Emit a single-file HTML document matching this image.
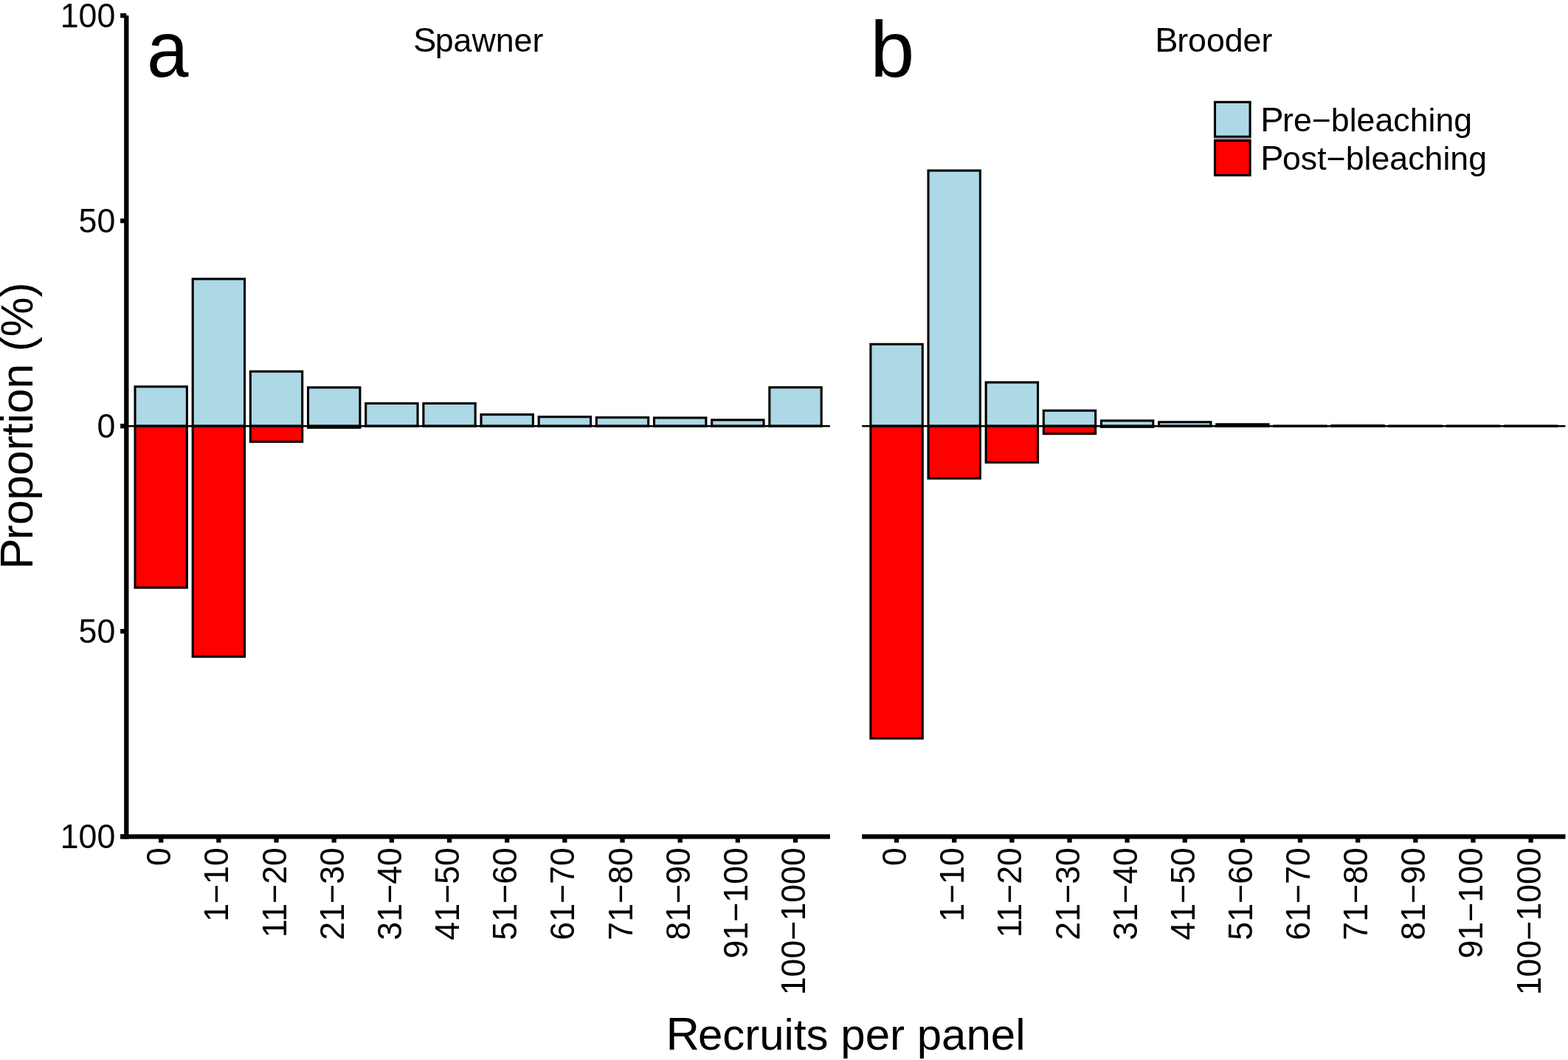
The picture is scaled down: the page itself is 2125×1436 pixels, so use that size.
<!DOCTYPE html>
<html><head><meta charset="utf-8"><title>Recruits per panel</title>
<style>html,body{margin:0;padding:0;background:#fff;}body{width:2125px;height:1436px;position:relative;overflow:hidden;}</style>
</head><body>
<svg width="2125" height="1436" viewBox="0 0 2125 1436" style="position:absolute;left:0;top:0" font-family="'Liberation Sans', Arial, sans-serif" fill="#000">
<rect width="2125" height="1436" fill="#fff"/>
<rect x="183.02" y="523.80" width="70.35" height="53.40" fill="#ADD8E6" stroke="#000" stroke-width="3.1"/>
<rect x="183.02" y="577.20" width="70.35" height="218.90" fill="#FF0000" stroke="#000" stroke-width="3.1"/>
<rect x="261.19" y="377.90" width="70.35" height="199.30" fill="#ADD8E6" stroke="#000" stroke-width="3.1"/>
<rect x="261.19" y="577.20" width="70.35" height="312.40" fill="#FF0000" stroke="#000" stroke-width="3.1"/>
<rect x="339.35" y="503.20" width="70.35" height="74.00" fill="#ADD8E6" stroke="#000" stroke-width="3.1"/>
<rect x="339.35" y="577.20" width="70.35" height="21.20" fill="#FF0000" stroke="#000" stroke-width="3.1"/>
<rect x="417.52" y="524.90" width="70.35" height="52.30" fill="#ADD8E6" stroke="#000" stroke-width="3.1"/>
<rect x="417.52" y="577.20" width="70.35" height="2.10" fill="#FF0000" stroke="#000" stroke-width="3.1"/>
<rect x="495.68" y="546.50" width="70.35" height="30.70" fill="#ADD8E6" stroke="#000" stroke-width="3.1"/>
<rect x="495.68" y="577.20" width="70.35" height="0.01" fill="#FF0000" stroke="#000" stroke-width="3.1"/>
<rect x="573.84" y="546.50" width="70.35" height="30.70" fill="#ADD8E6" stroke="#000" stroke-width="3.1"/>
<rect x="573.84" y="577.20" width="70.35" height="0.01" fill="#FF0000" stroke="#000" stroke-width="3.1"/>
<rect x="652.01" y="561.60" width="70.35" height="15.60" fill="#ADD8E6" stroke="#000" stroke-width="3.1"/>
<rect x="652.01" y="577.20" width="70.35" height="0.01" fill="#FF0000" stroke="#000" stroke-width="3.1"/>
<rect x="730.17" y="564.70" width="70.35" height="12.50" fill="#ADD8E6" stroke="#000" stroke-width="3.1"/>
<rect x="730.17" y="577.20" width="70.35" height="0.01" fill="#FF0000" stroke="#000" stroke-width="3.1"/>
<rect x="808.34" y="565.60" width="70.35" height="11.60" fill="#ADD8E6" stroke="#000" stroke-width="3.1"/>
<rect x="808.34" y="577.20" width="70.35" height="0.01" fill="#FF0000" stroke="#000" stroke-width="3.1"/>
<rect x="886.50" y="566.00" width="70.35" height="11.20" fill="#ADD8E6" stroke="#000" stroke-width="3.1"/>
<rect x="886.50" y="577.20" width="70.35" height="0.01" fill="#FF0000" stroke="#000" stroke-width="3.1"/>
<rect x="964.66" y="568.90" width="70.35" height="8.30" fill="#ADD8E6" stroke="#000" stroke-width="3.1"/>
<rect x="964.66" y="577.20" width="70.35" height="0.01" fill="#FF0000" stroke="#000" stroke-width="3.1"/>
<rect x="1042.83" y="524.80" width="70.35" height="52.40" fill="#ADD8E6" stroke="#000" stroke-width="3.1"/>
<rect x="1042.83" y="577.20" width="70.35" height="0.01" fill="#FF0000" stroke="#000" stroke-width="3.1"/>
<rect x="1179.91" y="466.30" width="70.35" height="110.90" fill="#ADD8E6" stroke="#000" stroke-width="3.1"/>
<rect x="1179.91" y="577.20" width="70.35" height="423.10" fill="#FF0000" stroke="#000" stroke-width="3.1"/>
<rect x="1258.05" y="231.05" width="70.35" height="346.15" fill="#ADD8E6" stroke="#000" stroke-width="3.1"/>
<rect x="1258.05" y="577.20" width="70.35" height="70.90" fill="#FF0000" stroke="#000" stroke-width="3.1"/>
<rect x="1336.19" y="518.00" width="70.35" height="59.20" fill="#ADD8E6" stroke="#000" stroke-width="3.1"/>
<rect x="1336.19" y="577.20" width="70.35" height="49.20" fill="#FF0000" stroke="#000" stroke-width="3.1"/>
<rect x="1414.33" y="556.20" width="70.35" height="21.00" fill="#ADD8E6" stroke="#000" stroke-width="3.1"/>
<rect x="1414.33" y="577.20" width="70.35" height="10.40" fill="#FF0000" stroke="#000" stroke-width="3.1"/>
<rect x="1492.47" y="569.90" width="70.35" height="7.30" fill="#ADD8E6" stroke="#000" stroke-width="3.1"/>
<rect x="1492.47" y="577.20" width="70.35" height="1.10" fill="#FF0000" stroke="#000" stroke-width="3.1"/>
<rect x="1570.61" y="571.80" width="70.35" height="5.40" fill="#ADD8E6" stroke="#000" stroke-width="3.1"/>
<rect x="1570.61" y="577.20" width="70.35" height="0.01" fill="#FF0000" stroke="#000" stroke-width="3.1"/>
<rect x="1648.75" y="574.80" width="70.35" height="2.40" fill="#ADD8E6" stroke="#000" stroke-width="3.1"/>
<rect x="1648.75" y="577.20" width="70.35" height="0.01" fill="#FF0000" stroke="#000" stroke-width="3.1"/>
<rect x="1726.89" y="577.20" width="70.35" height="0.01" fill="#ADD8E6" stroke="#000" stroke-width="3.1"/>
<rect x="1726.89" y="577.20" width="70.35" height="0.01" fill="#FF0000" stroke="#000" stroke-width="3.1"/>
<rect x="1805.02" y="576.60" width="70.35" height="0.60" fill="#ADD8E6" stroke="#000" stroke-width="3.1"/>
<rect x="1805.02" y="577.20" width="70.35" height="0.01" fill="#FF0000" stroke="#000" stroke-width="3.1"/>
<rect x="1883.16" y="577.20" width="70.35" height="0.01" fill="#ADD8E6" stroke="#000" stroke-width="3.1"/>
<rect x="1883.16" y="577.20" width="70.35" height="0.01" fill="#FF0000" stroke="#000" stroke-width="3.1"/>
<rect x="1961.30" y="577.20" width="70.35" height="0.01" fill="#ADD8E6" stroke="#000" stroke-width="3.1"/>
<rect x="1961.30" y="577.20" width="70.35" height="0.01" fill="#FF0000" stroke="#000" stroke-width="3.1"/>
<rect x="2039.44" y="577.20" width="70.35" height="0.01" fill="#ADD8E6" stroke="#000" stroke-width="3.1"/>
<rect x="2039.44" y="577.20" width="70.35" height="0.01" fill="#FF0000" stroke="#000" stroke-width="3.1"/>
<line x1="171.3" y1="577.2" x2="1124.9" y2="577.2" stroke="#000" stroke-width="2.6"/>
<line x1="1168.2" y1="577.2" x2="2121.5" y2="577.2" stroke="#000" stroke-width="2.6"/>
<line x1="171.3" y1="21.1" x2="171.3" y2="1136.45" stroke="#000" stroke-width="6.3"/>
<line x1="163.10000000000002" y1="1133.3" x2="1124.9" y2="1133.3" stroke="#000" stroke-width="6.3"/>
<line x1="1168.2" y1="1133.3" x2="2121.5" y2="1133.3" stroke="#000" stroke-width="6.3"/>
<line x1="163.10" y1="21.10" x2="171.3" y2="21.10" stroke="#000" stroke-width="6.3"/>
<text transform="translate(156.30,37.00) scale(1.0,1.05)" font-size="44.7" text-anchor="end">100</text>
<line x1="163.10" y1="299.15" x2="171.3" y2="299.15" stroke="#000" stroke-width="6.3"/>
<text transform="translate(156.30,315.05) scale(1.0,1.05)" font-size="44.7" text-anchor="end">50</text>
<line x1="163.10" y1="577.20" x2="171.3" y2="577.20" stroke="#000" stroke-width="6.3"/>
<text transform="translate(156.30,593.10) scale(1.0,1.05)" font-size="44.7" text-anchor="end">0</text>
<line x1="163.10" y1="855.25" x2="171.3" y2="855.25" stroke="#000" stroke-width="6.3"/>
<text transform="translate(156.30,871.15) scale(1.0,1.05)" font-size="44.7" text-anchor="end">50</text>
<line x1="163.10" y1="1133.30" x2="171.3" y2="1133.30" stroke="#000" stroke-width="6.3"/>
<text transform="translate(156.30,1149.20) scale(1.0,1.05)" font-size="44.7" text-anchor="end">100</text>
<line x1="218.20" y1="1133.3" x2="218.20" y2="1141.50" stroke="#000" stroke-width="6.3"/>
<text transform="translate(231.20,1148.15) rotate(-90) scale(1.0,1.05)" font-size="44.7" text-anchor="end">0</text>
<line x1="296.36" y1="1133.3" x2="296.36" y2="1141.50" stroke="#000" stroke-width="6.3"/>
<text transform="translate(309.36,1148.15) rotate(-90) scale(1.0,1.05)" font-size="44.7" text-anchor="end">1−10</text>
<line x1="374.53" y1="1133.3" x2="374.53" y2="1141.50" stroke="#000" stroke-width="6.3"/>
<text transform="translate(387.53,1148.15) rotate(-90) scale(1.0,1.05)" font-size="44.7" text-anchor="end">11−20</text>
<line x1="452.69" y1="1133.3" x2="452.69" y2="1141.50" stroke="#000" stroke-width="6.3"/>
<text transform="translate(465.69,1148.15) rotate(-90) scale(1.0,1.05)" font-size="44.7" text-anchor="end">21−30</text>
<line x1="530.85" y1="1133.3" x2="530.85" y2="1141.50" stroke="#000" stroke-width="6.3"/>
<text transform="translate(543.85,1148.15) rotate(-90) scale(1.0,1.05)" font-size="44.7" text-anchor="end">31−40</text>
<line x1="609.02" y1="1133.3" x2="609.02" y2="1141.50" stroke="#000" stroke-width="6.3"/>
<text transform="translate(622.02,1148.15) rotate(-90) scale(1.0,1.05)" font-size="44.7" text-anchor="end">41−50</text>
<line x1="687.18" y1="1133.3" x2="687.18" y2="1141.50" stroke="#000" stroke-width="6.3"/>
<text transform="translate(700.18,1148.15) rotate(-90) scale(1.0,1.05)" font-size="44.7" text-anchor="end">51−60</text>
<line x1="765.35" y1="1133.3" x2="765.35" y2="1141.50" stroke="#000" stroke-width="6.3"/>
<text transform="translate(778.35,1148.15) rotate(-90) scale(1.0,1.05)" font-size="44.7" text-anchor="end">61−70</text>
<line x1="843.51" y1="1133.3" x2="843.51" y2="1141.50" stroke="#000" stroke-width="6.3"/>
<text transform="translate(856.51,1148.15) rotate(-90) scale(1.0,1.05)" font-size="44.7" text-anchor="end">71−80</text>
<line x1="921.67" y1="1133.3" x2="921.67" y2="1141.50" stroke="#000" stroke-width="6.3"/>
<text transform="translate(934.67,1148.15) rotate(-90) scale(1.0,1.05)" font-size="44.7" text-anchor="end">81−90</text>
<line x1="999.84" y1="1133.3" x2="999.84" y2="1141.50" stroke="#000" stroke-width="6.3"/>
<text transform="translate(1012.84,1148.15) rotate(-90) scale(1.0,1.05)" font-size="44.7" text-anchor="end">91−100</text>
<line x1="1078.00" y1="1133.3" x2="1078.00" y2="1141.50" stroke="#000" stroke-width="6.3"/>
<text transform="translate(1091.00,1148.15) rotate(-90) scale(1.0,1.05)" font-size="44.7" text-anchor="end">100−1000</text>
<line x1="1215.08" y1="1133.3" x2="1215.08" y2="1141.50" stroke="#000" stroke-width="6.3"/>
<text transform="translate(1228.08,1148.15) rotate(-90) scale(1.0,1.05)" font-size="44.7" text-anchor="end">0</text>
<line x1="1293.22" y1="1133.3" x2="1293.22" y2="1141.50" stroke="#000" stroke-width="6.3"/>
<text transform="translate(1306.22,1148.15) rotate(-90) scale(1.0,1.05)" font-size="44.7" text-anchor="end">1−10</text>
<line x1="1371.36" y1="1133.3" x2="1371.36" y2="1141.50" stroke="#000" stroke-width="6.3"/>
<text transform="translate(1384.36,1148.15) rotate(-90) scale(1.0,1.05)" font-size="44.7" text-anchor="end">11−20</text>
<line x1="1449.50" y1="1133.3" x2="1449.50" y2="1141.50" stroke="#000" stroke-width="6.3"/>
<text transform="translate(1462.50,1148.15) rotate(-90) scale(1.0,1.05)" font-size="44.7" text-anchor="end">21−30</text>
<line x1="1527.64" y1="1133.3" x2="1527.64" y2="1141.50" stroke="#000" stroke-width="6.3"/>
<text transform="translate(1540.64,1148.15) rotate(-90) scale(1.0,1.05)" font-size="44.7" text-anchor="end">31−40</text>
<line x1="1605.78" y1="1133.3" x2="1605.78" y2="1141.50" stroke="#000" stroke-width="6.3"/>
<text transform="translate(1618.78,1148.15) rotate(-90) scale(1.0,1.05)" font-size="44.7" text-anchor="end">41−50</text>
<line x1="1683.92" y1="1133.3" x2="1683.92" y2="1141.50" stroke="#000" stroke-width="6.3"/>
<text transform="translate(1696.92,1148.15) rotate(-90) scale(1.0,1.05)" font-size="44.7" text-anchor="end">51−60</text>
<line x1="1762.06" y1="1133.3" x2="1762.06" y2="1141.50" stroke="#000" stroke-width="6.3"/>
<text transform="translate(1775.06,1148.15) rotate(-90) scale(1.0,1.05)" font-size="44.7" text-anchor="end">61−70</text>
<line x1="1840.20" y1="1133.3" x2="1840.20" y2="1141.50" stroke="#000" stroke-width="6.3"/>
<text transform="translate(1853.20,1148.15) rotate(-90) scale(1.0,1.05)" font-size="44.7" text-anchor="end">71−80</text>
<line x1="1918.34" y1="1133.3" x2="1918.34" y2="1141.50" stroke="#000" stroke-width="6.3"/>
<text transform="translate(1931.34,1148.15) rotate(-90) scale(1.0,1.05)" font-size="44.7" text-anchor="end">81−90</text>
<line x1="1996.48" y1="1133.3" x2="1996.48" y2="1141.50" stroke="#000" stroke-width="6.3"/>
<text transform="translate(2009.48,1148.15) rotate(-90) scale(1.0,1.05)" font-size="44.7" text-anchor="end">91−100</text>
<line x1="2074.62" y1="1133.3" x2="2074.62" y2="1141.50" stroke="#000" stroke-width="6.3"/>
<text transform="translate(2087.62,1148.15) rotate(-90) scale(1.0,1.05)" font-size="44.7" text-anchor="end">100−1000</text>
<text transform="translate(648.10,70.30)" font-size="44.7" text-anchor="middle"><tspan font-size="46.94">S</tspan><tspan dx="-1.49">pawner</tspan></text>
<text transform="translate(1644.85,70.30)" font-size="44.7" text-anchor="middle"><tspan font-size="46.94">B</tspan><tspan dx="-1.49">rooder</tspan></text>
<text transform="translate(198.90,103.90) scale(0.94,1.0)" font-size="108" text-anchor="start">a</text>
<text transform="translate(1179.30,104.00)" font-size="108" text-anchor="start">b</text>
<rect x="1646.5" y="138.3" width="47.6" height="46.9" fill="#ADD8E6" stroke="#000" stroke-width="3.1"/>
<rect x="1646.5" y="190.4" width="47.6" height="47.0" fill="#FF0000" stroke="#000" stroke-width="3.1"/>
<rect x="1645.1" y="186.8" width="50.7" height="2.2" fill="#999"/>
<text transform="translate(1708.20,178.10)" font-size="44.7" text-anchor="start"><tspan font-size="46.94">P</tspan><tspan dx="-1.49">re−bleaching</tspan></text>
<text transform="translate(1708.20,229.50)" font-size="44.7" text-anchor="start"><tspan font-size="46.94">P</tspan><tspan dx="-1.49">ost−bleaching</tspan></text>
<text transform="translate(44.00,576.90) rotate(-90)" font-size="60.35" text-anchor="middle"><tspan font-size="63.37">P</tspan><tspan dx="-2.01">roportion (%)</tspan></text>
<text transform="translate(1146.00,1421.70)" font-size="60" text-anchor="middle"><tspan font-size="63.00">R</tspan><tspan dx="-2.17">ecruits per panel</tspan></text>
</svg>
</body></html>
